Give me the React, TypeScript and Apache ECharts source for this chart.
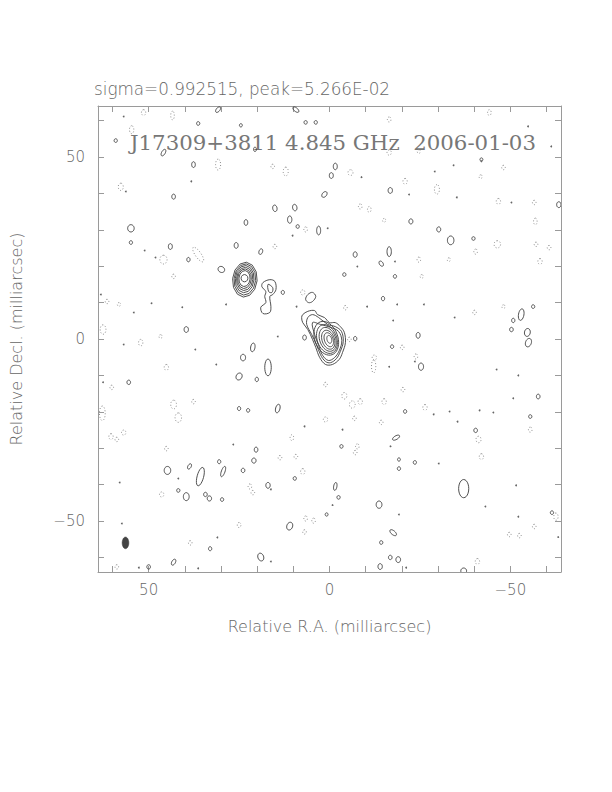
import React, { useEffect, useRef } from "react";
import * as echarts from "echarts";

// ---------- axes ----------
const RA_RANGE = [-64, 64];
const DEC_RANGE = [-64, 64];
const tickValues = [-60, -50, -40, -30, -20, -10, 0, 10, 20, 30, 40, 50, 60];
const labelValues = [-50, 0, 50];

// ---------- texts ----------
const headerText = "sigma=0.992515, peak=5.266E-02";
const mapTitle = "J17309+3811 4.845 GHz  2006-01-03";
const xAxisTitle = "Relative R.A. (milliarcsec)";
const yAxisTitle = "Relative Decl. (milliarcsec)";

// ---------- contours: [RA, Dec, semi-major, semi-minor, PA deg] (mas) ----------
const coreLevels = [
  [0.9, 0.2, 4.8, 3.2, 20],
  [0.7, 0.0, 4.1, 2.7, 20],
  [0.5, -0.1, 3.4, 2.2, 20],
  [0.35, -0.2, 2.7, 1.7, 20],
  [0.2, -0.2, 2.0, 1.2, 20],
  [0.05, -0.1, 1.1, 0.65, 15],
];

const secondaryLevels = [
  [23.4, 16.3, 4.8, 3.4, -5],
  [23.4, 16.35, 4.3, 3.0, -5],
  [23.45, 16.45, 3.75, 2.6, -5],
  [23.45, 16.5, 3.2, 2.25, -5],
  [23.5, 16.55, 2.7, 1.9, -5],
  [23.5, 16.6, 2.2, 1.55, -5],
  [23.5, 16.7, 1.0, 0.95, 0],
];

// irregular contours: lists of [RA, Dec]
const coreOuter = [
  [7.4, 6.7], [6.0, 7.6], [4.1, 7.8], [3.3, 6.7], [1.4, 5.9], [0, 4.5], [-1.6, 4.5],
  [-3.0, 3.4], [-4.1, 1.8], [-4.4, -1.0], [-3.6, -3.7], [-2.7, -5.6], [-0.8, -7.0],
  [1.1, -7.0], [2.7, -5.1], [3.8, -2.3], [4.7, -0.1], [6.0, 2.6], [7.4, 4.5], [7.7, 5.9],
];
const coreSecond = [
  [6.0, 5.9], [4.7, 6.7], [3.0, 5.9], [0.5, 4.0], [-1.6, 3.4], [-3.3, 2.1], [-3.8, -0.7],
  [-3.0, -3.4], [-1.9, -5.4], [-0.3, -6.5], [1.1, -6.2], [2.5, -4.3], [3.6, -1.5],
  [4.9, 1.2], [6.3, 4.0],
];
const coreThird = [
  [4.7, 4.5], [2.5, 4.0], [-0.3, 3.2], [-2.5, 2.1], [-3.4, -0.4], [-2.7, -3.2],
  [-1.4, -5.1], [0.3, -5.9], [1.9, -4.5], [3.0, -1.8], [4.1, 1.2],
];
const jetOuter = [
  [18.4, 15.5], [16.5, 16.3], [15.1, 15.8], [14.8, 13.6], [15.7, 12.2], [16.5, 11.7],
  [16.2, 8.9], [16.5, 7.3], [18.4, 7.0], [19.0, 8.7], [17.6, 10.0], [17.9, 11.7],
  [17.6, 13.0], [18.7, 14.4],
];
const jetInner = [[17.0, 15.0], [15.7, 14.1], [15.9, 12.8], [16.8, 13.0]];
const knotBean = [[6.0, 12.2], [4.7, 12.8], [3.8, 11.7], [4.7, 10.3], [5.8, 10.0], [6.6, 10.9]];
const irregularContours = [coreOuter, coreSecond, coreThird, jetOuter, jetInner, knotBean];

// positive noise contours
const positiveBlobs = [
  [45.9, 51.2, 1.0, 0.5, -30], [37.6, 47.9, 0.8, 0.5, 0], [43.1, 39.1, 0.7, 0.5, 0],
  [1.4, 39.7, 0.9, 0.6, -40], [-0.5, 44.9, 0.8, 0.55, 0], [9.6, 36.1, 0.9, 0.6, 10],
  [15.1, 35.9, 0.9, 0.6, 10], [11.0, 32.8, 1.0, 0.6, 0], [8.8, 30.9, 0.5, 0.45, 0],
  [3.0, 29.8, 1.2, 0.55, 0], [23.1, 32.0, 0.8, 0.5, 0], [54.9, 30.4, 1.0, 0.9, 0],
  [54.9, 26.5, 0.5, 0.45, 0], [44.0, 25.4, 0.8, 0.55, 0], [39.0, 21.8, 0.6, 0.45, 0],
  [25.8, 25.7, 0.8, 0.55, 0], [19.0, 24.0, 0.8, 0.5, -20], [29.9, 19.1, 0.95, 0.8, 60],
  [12.9, 12.8, 0.55, 0.45, 0], [6.9, 0.4, 0.7, 0.5, 0], [39.6, 2.6, 0.8, 0.6, 0],
  [21.2, -2.3, 1.2, 0.6, -10], [23.9, -5.1, 0.9, 0.7, 0], [17.0, -7.8, 2.3, 0.9, 0],
  [25.0, -10.3, 1.0, 0.8, -30], [20.1, -11.1, 0.6, 0.45, 0], [55.5, -11.9, 0.6, 0.5, 0],
  [25.0, -19.1, 0.55, 0.45, 0], [22.5, -19.6, 0.5, 0.45, 0], [14.3, -19.1, 1.2, 0.6, -15],
  [20.3, -30.4, 0.7, 0.5, 0], [20.9, -33.4, 0.7, 0.6, 0], [9.6, -38.3, 0.5, 0.45, 0],
  [44.8, -36.1, 1.1, 0.9, 0], [38.7, -35.0, 0.8, 0.45, -30], [35.7, -37.8, 2.6, 0.9, -15],
  [30.5, -33.7, 0.55, 0.45, 0], [29.4, -36.4, 1.5, 0.5, -20], [23.9, -36.1, 0.6, 0.5, 0],
  [17.0, -40.2, 0.8, 0.6, 0], [41.8, -41.6, 0.5, 0.45, 0], [39.6, -43.3, 1.1, 0.8, 0],
  [34.3, -42.7, 0.6, 0.5, 0], [33.2, -43.8, 0.7, 0.6, 0], [29.7, -44.1, 0.5, 0.45, 0],
  [0.8, -48.2, 0.45, 0.4, 0], [11.0, -51.4, 1.1, 0.8, -20], [33.0, -57.6, 0.55, 0.45, 0],
  [19.0, -59.9, 1.1, 0.8, 20], [43.1, -61.3, 0.9, 0.5, -30], [50.0, -62.6, 0.6, 0.5, 0],
  [-1.6, 47.4, 0.9, 0.55, 0], [-16.8, 40.8, 0.8, 0.6, 0], [-22.5, 32.3, 0.7, 0.55, 0],
  [-30.2, 30.1, 0.7, 0.55, 0], [-33.5, 27.1, 1.2, 0.9, 0], [-39.8, 27.6, 0.5, 0.45, 0],
  [-16.5, 24.0, 1.35, 0.6, 0], [-7.1, 23.2, 0.75, 0.55, 0], [-14.3, 20.7, 0.8, 0.5, 35],
  [-4.1, 17.7, 0.5, 0.45, 0], [-18.1, 17.2, 0.5, 0.45, 0], [-14.8, 11.1, 0.6, 0.45, 0],
  [-56.3, 8.9, 0.5, 0.45, 0], [-53.0, 6.7, 1.6, 0.75, -10], [-50.8, 5.1, 0.6, 0.45, 0],
  [-50.3, 2.6, 0.6, 0.5, 0], [-54.7, 1.8, 1.1, 0.8, -10], [-55.0, -1.0, 1.2, 0.8, -20],
  [-7.1, 0.1, 0.6, 0.45, 0], [-24.5, 1.0, 0.8, 0.55, 0], [-17.3, -2.1, 0.5, 0.45, 0],
  [-25.3, -7.6, 1.0, 0.7, 0], [-20.9, -19.9, 0.5, 0.45, 0], [-57.7, -15.8, 0.65, 0.5, 0],
  [-55.5, -21.3, 0.5, 0.45, 0], [-40.4, -25.1, 0.6, 0.5, 0], [-3.3, -29.5, 0.5, 0.45, 0],
  [-18.4, -27.1, 1.1, 0.5, -60], [-19.2, -33.1, 0.45, 0.4, 0], [-19.2, -35.6, 0.5, 0.45, 0],
  [-23.6, -33.9, 0.5, 0.45, 0], [-37.1, -41.1, 2.5, 1.4, 0], [-1.6, -40.5, 1.1, 0.45, -10],
  [-2.5, -43.5, 0.5, 0.45, 0], [-13.7, -45.5, 1.0, 0.8, 0], [-17.6, -53.2, 1.1, 0.55, 50],
  [-14.3, -55.9, 0.5, 0.45, 0], [-16.8, -60.0, 0.6, 0.5, 0], [-19.0, -60.6, 0.8, 0.65, 0],
  [-14.0, -62.5, 0.8, 0.6, 0], [-37.1, -63.7, 0.8, 0.8, 0], [-61.5, -47.7, 0.5, 0.45, 0],
  [-63.4, 36.9, 0.8, 0.6, 0], [30.8, 63.0, 0.9, 0.5, -40], [36.3, 59.2, 0.5, 0.45, 0],
  [24.5, 58.7, 0.45, 0.4, 0], [9.3, 63.0, 1.0, 0.5, 50], [6.6, 59.5, 0.5, 0.45, 0],
  [3.8, 59.5, 0.5, 0.45, 0], [59.1, 54.5, 0.5, 0.45, 0], [20.6, 52.1, 0.6, 0.4, 0],
  [-42.0, 49.3, 0.45, 0.4, 0],
];

// negative noise contours (dotted)
const negativeBlobs = [
  [30.8, 47.9, 1.5, 0.7, 0], [57.7, 41.8, 1.0, 0.7, 0], [15.7, 47.4, 0.6, 0.5, 0],
  [12.1, 46.0, 1.2, 0.7, 0], [6.6, 30.1, 0.7, 0.5, 0], [45.9, 21.8, 1.2, 1.0, 0],
  [36.3, 23.2, 2.4, 0.8, 35], [15.1, 25.4, 0.6, 0.5, 0], [43.1, 17.2, 0.6, 0.5, 0],
  [7.4, 12.8, 0.7, 0.6, 0], [62.6, 2.6, 1.3, 0.8, 0], [61.5, 10.3, 0.6, 0.5, 0],
  [58.2, 9.5, 0.5, 0.45, 0], [46.7, 0.7, 0.5, 0.45, 0], [52.2, -1.0, 0.9, 0.6, 0],
  [-5.8, 45.7, 0.8, 0.7, 0], [-16.5, 51.2, 0.7, 0.6, 0], [-24.7, 51.5, 0.5, 0.45, 0],
  [-20.9, 43.3, 0.8, 0.6, 0], [-29.7, 41.1, 1.3, 0.7, 0], [-48.1, 47.1, 0.6, 0.5, 0],
  [-41.8, 44.6, 0.5, 0.45, 0], [-46.7, 37.8, 0.8, 0.6, 0], [-56.6, 37.5, 0.6, 0.5, 0],
  [-8.5, 36.4, 0.7, 0.5, 0], [-11.0, 35.6, 0.8, 0.5, 0], [-15.1, 32.6, 0.5, 0.45, 0],
  [-46.4, 26.0, 1.0, 0.9, 0], [-40.4, 24.0, 0.7, 0.5, 0], [-57.1, 26.0, 0.6, 0.5, 0],
  [-60.7, 25.1, 0.6, 0.5, 0], [-56.9, 32.3, 0.9, 0.5, 0], [-58.2, 21.3, 0.8, 0.6, 0],
  [-24.7, 21.8, 0.7, 0.5, 0], [-33.0, 21.8, 0.5, 0.45, 0], [-25.5, 17.2, 0.5, 0.45, 0],
  [-4.4, 8.6, 0.6, 0.5, 0], [-40.1, 7.3, 0.6, 0.5, 0], [-48.1, 8.9, 0.5, 0.45, 0],
  [-5.5, -0.1, 0.6, 0.5, 0], [-20.1, -2.3, 0.6, 0.5, 0], [-12.4, -5.1, 0.7, 0.6, 0],
  [-23.9, -4.8, 0.7, 0.5, 0], [45.1, -7.8, 0.8, 0.6, 0], [60.2, -13.3, 0.6, 0.5, 0],
  [37.6, -17.2, 0.6, 0.5, 0], [43.1, -18.0, 1.2, 0.8, 0], [41.8, -21.6, 1.3, 0.9, 0],
  [62.8, -20.4, 2.0, 0.8, 0], [60.4, -26.8, 0.8, 0.6, 0], [56.9, -25.7, 0.7, 0.6, 0],
  [58.8, -27.6, 0.6, 0.5, 0], [1.1, -22.1, 0.7, 0.6, 0], [10.4, -27.1, 0.8, 0.5, 0],
  [45.1, -30.1, 0.6, 0.5, 0], [13.7, -32.6, 0.6, 0.5, 0], [9.3, -32.3, 0.6, 0.5, 0],
  [7.4, -36.4, 0.8, 0.6, 0], [22.0, -40.5, 0.7, 0.5, 0], [21.2, -42.2, 0.6, 0.5, 0],
  [46.4, -42.7, 0.7, 0.6, 0], [6.6, -49.3, 0.7, 0.5, 0], [4.4, -49.9, 0.7, 0.5, 0],
  [6.9, -53.0, 0.6, 0.5, 0], [25.0, -51.1, 0.7, 0.5, 0], [38.5, -56.0, 0.6, 0.5, 0],
  [58.8, -62.6, 0.6, 0.5, 0], [-12.2, -7.5, 1.8, 0.6, 0], [1.1, -12.5, 0.6, 0.5, 0],
  [-4.1, -15.6, 0.9, 0.7, 0], [-6.3, -18.0, 1.0, 0.8, 0], [-8.5, -17.2, 0.8, 0.6, 0],
  [-6.9, -21.8, 0.6, 0.5, 0], [-15.1, -17.2, 0.8, 0.6, 0], [-14.3, -22.9, 0.6, 0.5, 0],
  [-20.3, -13.9, 0.6, 0.5, 0], [-26.4, -18.8, 0.8, 0.6, 0], [-55.5, -24.9, 0.7, 0.5, 0],
  [-41.2, -27.6, 0.9, 0.7, 0], [-42.0, -32.3, 0.8, 0.6, 0], [-7.7, -29.5, 0.7, 0.5, 0],
  [-7.1, -31.2, 0.6, 0.5, 0], [-40.9, -61.1, 0.8, 0.6, 0], [-56.6, -51.5, 0.6, 0.5, 0],
  [-49.7, -53.7, 0.6, 0.5, 0], [-52.5, -54.0, 0.6, 0.5, 0], [-62.6, -48.8, 1.0, 0.6, 0],
  [51.4, 62.2, 0.8, 0.6, 0], [43.4, 61.4, 1.2, 0.5, 0], [54.7, 57.5, 1.1, 0.6, 0],
  [-16.5, 60.3, 0.7, 0.5, 0], [-44.2, 62.2, 0.8, 0.5, 0],
];

// single-pixel contour specks: [RA, Dec]
const specks = [
  [56.3, 40.5], [38.2, 43.3], [10.2, 28.4], [0.5, 30.4], [51.1, 24.3], [48.1, 22.4],
  [28.6, 9.5], [40.7, 8.7], [9.1, 8.9], [56.9, -1.5], [37.1, -2.9], [14.3, 0.7],
  [31.3, -7.0], [63.2, 12.2], [49.2, 9.8], [54.1, 7.3], [-8.8, 44.6], [-22.0, 39.7],
  [-35.2, 38.9], [-34.3, 47.7], [-42.0, 48.8], [-50.3, 37.5], [-18.1, 21.3], [-7.7, 19.9],
  [-18.7, 9.5], [-26.1, 9.5], [-10.4, 8.9], [-17.6, 5.1], [-34.6, 5.9], [-16.5, -7.6],
  [62.6, -11.9], [6.9, -24.0], [26.6, -29.0], [41.8, -38.3], [16.2, -41.3], [58.0, -39.4],
  [-0.8, -45.5], [57.4, -50.7], [31.0, -54.5], [16.2, -61.1], [52.7, -62.8], [36.3, -63.0],
  [-23.6, -6.2], [-28.8, -20.7], [-33.2, -19.9], [-35.4, -22.7], [-41.5, -19.6],
  [-45.3, -20.2], [-50.8, -16.3], [-46.2, -8.4], [-52.2, -10.0], [-3.6, -24.9],
  [-16.8, -29.3], [-30.2, -34.2], [-19.2, -48.2], [-21.2, -62.8], [-43.1, -46.0],
  [-51.6, -40.2], [-52.2, -48.8], [-63.2, -54.3], [56.9, 61.1], [-8.2, 63.6],
  [-54.9, 58.4], [-61.3, 52.9], [-29.1, 46.0],
];

// restoring beam: [RA, Dec, semi-major, semi-minor, PA]
const beam = [[56.4, -56.0, 1.6, 0.92, 0]];

function ellipsePoints(api: any, segments: number) {
  const ra = api.value(0), dec = api.value(1), a = api.value(2), b = api.value(3);
  const pa = (api.value(4) * Math.PI) / 180;
  const pts: number[][] = [];
  for (let i = 0; i < segments; i++) {
    const t = (2 * Math.PI * i) / segments;
    const u = a * Math.cos(t), v = b * Math.sin(t);
    const x = ra + u * Math.sin(pa) + v * Math.cos(pa);
    const y = dec + u * Math.cos(pa) - v * Math.sin(pa);
    pts.push(api.coord([x, y]));
  }
  return pts;
}

const solidStyle = { stroke: "#3c3c3c", lineWidth: 0.9, fill: "none" };
const dottedStyle = { stroke: "#8a8a8a", lineWidth: 1, fill: "none", lineDash: [1, 2] };

function ellipseSeries(name: string, data: number[][], segments: number, style: any) {
  return {
    type: "custom",
    name,
    coordinateSystem: "cartesian2d",
    clip: true,
    silent: true,
    data,
    renderItem: (_p: any, api: any) => ({
      type: "polygon",
      shape: { points: ellipsePoints(api, segments) },
      style,
    }),
  };
}

const fmt = (v: number) => (v < 0 ? "\u2212" + Math.abs(v) : String(v));
const sans = "DejaVu Sans";

export default function App() {
  const ref = useRef<HTMLDivElement>(null);
  useEffect(() => {
    if (!ref.current) return;
    const chart = echarts.init(ref.current, null, { renderer: "svg" });
    const axisLineStyle = { color: "#9a9a9a", width: 1 };
    const baseAxis = (extra: any) => ({
      type: "value",
      axisLine: { show: true, onZero: false, lineStyle: axisLineStyle },
      axisTick: { show: true, inside: true, length: 6, customValues: tickValues, lineStyle: axisLineStyle },
      splitLine: { show: false },
      ...extra,
    });
    const labelStyle = { color: "#666", fontSize: 15, fontFamily: sans, fontWeight: 200 };
    const nameStyle = { color: "#666", fontSize: 16, fontFamily: sans, fontWeight: 200 };
    chart.setOption({
      animation: false,
      backgroundColor: "#fff",
      grid: { left: 95, top: 106, width: 466, height: 466, containLabel: false },
      xAxis: [
        baseAxis({
          min: RA_RANGE[0], max: RA_RANGE[1], inverse: true, position: "bottom",
          axisLabel: { customValues: labelValues, formatter: fmt, margin: 10, ...labelStyle },
          name: xAxisTitle, nameLocation: "middle", nameGap: 46, nameTextStyle: nameStyle,
        }),
        baseAxis({
          min: RA_RANGE[0], max: RA_RANGE[1], inverse: true, position: "top",
          axisLabel: { show: false },
        }),
      ],
      yAxis: [
        baseAxis({
          min: DEC_RANGE[0], max: DEC_RANGE[1], position: "left",
          axisLabel: { customValues: labelValues, formatter: fmt, margin: 13, ...labelStyle },
          name: yAxisTitle, nameLocation: "middle", nameGap: 74, nameRotate: 90, nameTextStyle: nameStyle,
        }),
        baseAxis({
          min: DEC_RANGE[0], max: DEC_RANGE[1], position: "right",
          axisLabel: { show: false },
        }),
      ],
      graphic: [
        {
          type: "text", left: 94, top: 80,
          style: { text: headerText, fill: "#666", font: `200 16.8px "${sans}"` },
        },
        {
          type: "text", left: 130, top: 132,
          style: { text: mapTitle, fill: "#777", font: `21.3px "DejaVu Serif"` },
        },
      ],
      series: [
        ellipseSeries("negative", negativeBlobs, 24, dottedStyle),
        ellipseSeries("positive", positiveBlobs, 24, solidStyle),
        {
          type: "custom",
          name: "specks",
          coordinateSystem: "cartesian2d",
          clip: true,
          silent: true,
          data: specks,
          renderItem: (_p: any, api: any) => {
            const c = api.coord([api.value(0), api.value(1)]);
            return { type: "circle", shape: { cx: c[0], cy: c[1], r: 0.9 }, style: { fill: "#666" } };
          },
        },
        {
          type: "custom",
          name: "irregular",
          coordinateSystem: "cartesian2d",
          clip: true,
          silent: true,
          data: irregularContours.map((poly, i) => [poly[0][0], poly[0][1], i]),
          renderItem: (_p: any, api: any) => {
            const poly = irregularContours[api.value(2)];
            return {
              type: "polygon",
              shape: { points: poly.map((p) => api.coord(p)), smooth: 0.35 },
              style: solidStyle,
            };
          },
        },
        ellipseSeries("core", coreLevels, 40, solidStyle),
        ellipseSeries("secondary", secondaryLevels, 12, solidStyle),
        ellipseSeries("beam", beam, 32, { fill: "#444", stroke: "#333", lineWidth: 0.5 }),
      ],
    });
    return () => chart.dispose();
  }, []);
  return (
    <div
      ref={ref}
      style={{ position: "absolute", left: 0, top: 0, width: 612, height: 792, background: "#fff" }}
    />
  );
}
